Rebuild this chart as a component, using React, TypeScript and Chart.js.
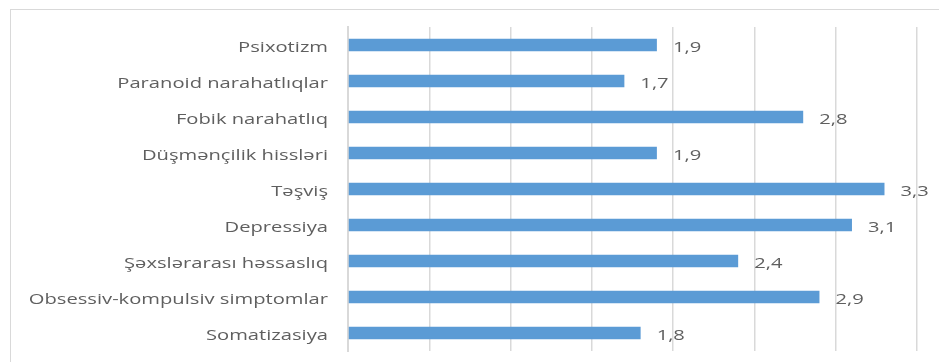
import React, { useEffect, useRef } from "react";
import { Chart, registerables } from "chart.js";

Chart.register(...registerables);

const categories = [
  "Psixotizm",
  "Paranoid narahatlıqlar",
  "Fobik narahatlıq",
  "Düşmənçilik hissləri",
  "Təşviş",
  "Depressiya",
  "Şəxslərarası həssaslıq",
  "Obsessiv-kompulsiv simptomlar",
  "Somatizasiya",
];
const values = [1.9, 1.7, 2.8, 1.9, 3.3, 3.1, 2.4, 2.9, 1.8];
const axisMin = 0;
const axisMax = 3.5;
const axisStep = 0.5;

const FONT = "14px 'Open Sans', sans-serif";
const TEXT_COLOR = "#5f5f5f";
const STRETCH = 1.44;

function drawStretched(ctx: any, txt: string, x: number, y: number, align: string) {
  ctx.save();
  ctx.translate(x, y);
  ctx.scale(STRETCH, 1);
  ctx.textAlign = align;
  ctx.fillText(txt, 0, 0);
  ctx.restore();
}

const labelPlugin = {
  id: "labels",
  afterDatasetsDraw(chart: any) {
    const ctx = chart.ctx;
    const yScale = chart.scales.y;
    const meta = chart.getDatasetMeta(0);
    ctx.save();
    ctx.font = FONT;
    ctx.fillStyle = TEXT_COLOR;
    ctx.textBaseline = "alphabetic";
    const labels = chart.data.labels as string[];
    labels.forEach((lab: string, i: number) => {
      const y = yScale.getPixelForTick(i);
      drawStretched(ctx, lab, yScale.right - 20, y + 6.5, "right");
    });
    meta.data.forEach((bar: any, i: number) => {
      const txt = values[i].toFixed(1).replace(".", ",");
      drawStretched(ctx, txt, bar.x + 16, bar.y + 6.5, "left");
    });
    ctx.restore();
  },
};

export default function App() {
  const ref = useRef<HTMLCanvasElement | null>(null);

  useEffect(() => {
    if (!ref.current) return;
    const chart = new Chart(ref.current, {
      type: "bar",
      data: {
        labels: categories,
        datasets: [
          {
            data: values,
            backgroundColor: "#5B9BD5",
            borderWidth: 0,
            barPercentage: 0.35,
            categoryPercentage: 1,
          },
        ],
      },
      options: {
        indexAxis: "y",
        animation: false,
        responsive: false,
        maintainAspectRatio: false,
        layout: { padding: { left: 0, right: 22, top: 27, bottom: 11 } },
        plugins: {
          legend: { display: false },
          tooltip: { enabled: false },
        },
        scales: {
          x: {
            min: axisMin,
            max: axisMax,
            ticks: { display: false, stepSize: axisStep },
            grid: { color: "#d9d9d9", lineWidth: 1.5, drawTicks: false },
            border: { display: false },
            afterFit: (s: any) => {
              s.height = 0;
            },
          },
          y: {
            ticks: { display: false },
            grid: { display: false, drawTicks: false },
            border: { display: true, color: "#d9d9d9", width: 2 },
            afterFit: (s: any) => {
              s.width = 348;
            },
          },
        },
      },
      plugins: [labelPlugin],
    });
    return () => chart.destroy();
  }, []);

  return (
    <div
      style={{
        position: "fixed",
        left: 0,
        top: 0,
        width: 939,
        height: 362,
        overflow: "hidden",
        background: "#fff",
      }}
    >
      <div
        style={{
          position: "absolute",
          left: 10,
          top: 9,
          width: 1000,
          height: 400,
          border: "1px solid #d9d9d9",
        }}
      />
      <canvas
        ref={ref}
        width={939}
        height={362}
        style={{ position: "absolute", left: 0, top: 0, width: 939, height: 362 }}
      />
    </div>
  );
}
